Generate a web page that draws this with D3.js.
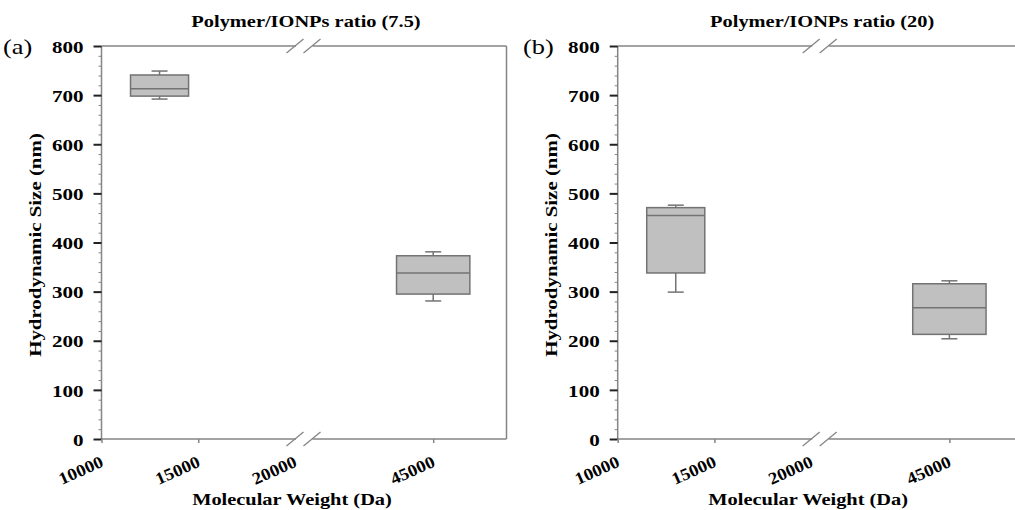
<!DOCTYPE html>
<html>
<head>
<meta charset="utf-8">
<script src="https://cdn.jsdelivr.net/npm/d3@7"></script>
<style>
  html, body { margin: 0; padding: 0; background: #fff; }
  svg { display: block; }
  text { font-family: "Liberation Serif", "Times New Roman", serif; fill: #000; }
</style>
</head>
<body>
<svg id="chart" width="1015" height="510"></svg>
<script>
// Molecular weight tick labels (broken axis between 20000 and 40000)
const weightTicks = [10000, 15000, 20000, 45000];
// Hydrodynamic size ticks (nm)
const sizeTicks = [0, 100, 200, 300, 400, 500, 600, 700, 800];
// Box positions on the molecular weight axis
const boxPositions = [13000, 45000];
const boxSpan = 3000;

// Polymer/IONPs ratio 7.5
const r75Min    = [692, 281];
const r75Q1     = [698, 295];
const r75Median = [713, 338];
const r75Q3     = [741, 373];
const r75Max    = [749, 381];

// Polymer/IONPs ratio 20
const r20Min    = [299, 204];
const r20Q1     = [338, 213];
const r20Median = [455, 267];
const r20Q3     = [471, 316];
const r20Max    = [476, 322];

const panelTitles = ["Polymer/IONPs ratio (7.5)", "Polymer/IONPs ratio (20)"];
const panelTags = ["(a)", "(b)"];

const panels = [
  { tag: panelTags[0], title: panelTitles[0], x0: 101.5, tagX: 3,
    min: r75Min, q1: r75Q1, med: r75Median, q3: r75Q3, max: r75Max },
  { tag: panelTags[1], title: panelTitles[1], x0: 617.7, tagX: 523,
    min: r20Min, q1: r20Q1, med: r20Median, q3: r20Q3, max: r20Max }
];

const W = 405, yTop = 46, yBottom = 439;
const axisGray = "#858585";
const boxStroke = "#737373";
const boxFill = "#c0c0c0";

const svg = d3.select("#chart");

// Piecewise scale: 10000–20000, gap, 40000–48000
const x = d3.scaleLinear()
  .domain([10000, 20000, 40000, 48000])
  .range([0, 193.5, 209.5, W]);
const y = d3.scaleLinear().domain([0, 800]).range([yBottom, yTop]);

panels.forEach(p => {
  const g = svg.append("g").attr("transform", `translate(${p.x0},0)`);

  // Boxes and whiskers
  const boxes = g.append("g");
  boxPositions.forEach((pos, i) => {
    const cx = x(pos);
    const left = x(pos - boxSpan / 2), right = x(pos + boxSpan / 2);
    const b = boxes.append("g")
      .attr("stroke", boxStroke).attr("stroke-width", 1.5);
    // upper whisker
    b.append("line").attr("x1", cx).attr("x2", cx)
      .attr("y1", y(p.q3[i])).attr("y2", y(p.max[i]));
    b.append("line").attr("x1", cx - 8).attr("x2", cx + 8)
      .attr("y1", y(p.max[i])).attr("y2", y(p.max[i]));
    // lower whisker
    b.append("line").attr("x1", cx).attr("x2", cx)
      .attr("y1", y(p.q1[i])).attr("y2", y(p.min[i]));
    b.append("line").attr("x1", cx - 8).attr("x2", cx + 8)
      .attr("y1", y(p.min[i])).attr("y2", y(p.min[i]));
    // box
    b.append("rect")
      .attr("x", left).attr("width", right - left)
      .attr("y", y(p.q3[i])).attr("height", y(p.q1[i]) - y(p.q3[i]))
      .attr("fill", boxFill);
    // median
    b.append("line").attr("x1", left).attr("x2", right)
      .attr("y1", y(p.med[i])).attr("y2", y(p.med[i]));
  });

  // Frame with break gap on top and bottom
  const frame = g.append("g").attr("stroke", axisGray).attr("stroke-width", 1.5).attr("fill", "none");
  const gapL = x(20000) + 1, gapR = x(40000) + 1.5;
  [yTop, yBottom].forEach(yy => {
    frame.append("line").attr("x1", 0).attr("x2", gapL).attr("y1", yy).attr("y2", yy);
    frame.append("line").attr("x1", gapR).attr("x2", W).attr("y1", yy).attr("y2", yy);
    [x(20000), x(40000) + 1].forEach(cx => {
      frame.append("line")
        .attr("x1", cx - 8.5).attr("y1", yy + 7)
        .attr("x2", cx + 8.5).attr("y2", yy - 7)
        .attr("stroke-width", 1.3);
    });
  });
  frame.append("line").attr("x1", 0).attr("x2", 0).attr("y1", yTop).attr("y2", yBottom);
  frame.append("line").attr("x1", W).attr("x2", W).attr("y1", yTop).attr("y2", yBottom);

  // Minor y ticks
  const minor = g.append("g")
    .call(d3.axisLeft(y)
      .tickValues(d3.range(0, 801, 20).filter(v => v % 100 !== 0))
      .tickSize(3).tickSizeOuter(0).tickFormat(""));
  minor.select(".domain").remove();
  minor.selectAll("line").attr("stroke", axisGray).attr("stroke-width", 1);

  // Major y ticks
  const yAxis = g.append("g")
    .call(d3.axisLeft(y).tickValues(sizeTicks).tickSize(8).tickSizeOuter(0));
  yAxis.select(".domain").remove();
  yAxis.selectAll("line").attr("stroke", "#222").attr("stroke-width", 2);
  yAxis.selectAll("text")
    .attr("x", null).attr("dy", "0.36em")
    .attr("text-anchor", "end")
    .attr("transform", "translate(-18,0) scale(1.24,1)")
    .style("font-size", "17px").style("font-weight", "bold")
    .style("font-family", "'Liberation Serif', serif").attr("fill", "#000");

  // X ticks
  const xAxis = g.append("g").attr("transform", `translate(0,${yBottom})`)
    .call(d3.axisBottom(x).tickValues(weightTicks).tickSize(4).tickSizeOuter(0)
      .tickFormat(d3.format("d")));
  xAxis.select(".domain").remove();
  xAxis.selectAll(".tick line").attr("stroke", axisGray).attr("stroke-width", 1.5);
  xAxis.selectAll(".tick").filter(d => d === 20000).select("line").remove();
  xAxis.selectAll("text")
    .attr("y", null).attr("dy", null)
    .attr("text-anchor", "end")
    .attr("transform", "translate(2.5,27) rotate(-24) scale(1.1,1)")
    .style("font-size", "17px").style("font-weight", "bold")
    .style("font-family", "'Liberation Serif', serif").attr("fill", "#000");

  // Titles
  g.append("text")
    .attr("transform", `translate(${W / 2 + 2},27) scale(1.2,1)`)
    .attr("text-anchor", "middle")
    .style("font-size", "17px").style("font-weight", "bold")
    .text(p.title);

  g.append("text")
    .attr("transform", "translate(190.5,505) scale(1.2,1)")
    .attr("text-anchor", "middle")
    .style("font-size", "17px").style("font-weight", "bold")
    .text("Molecular Weight (Da)");

  g.append("text")
    .attr("transform", "translate(-60.5,245) rotate(-90) scale(1.23,1)")
    .attr("text-anchor", "middle")
    .style("font-size", "17px").style("font-weight", "bold")
    .text("Hydrodynamic Size (nm)");

  svg.append("text")
    .attr("transform", `translate(${p.tagX},54) scale(1.2,1)`)
    .style("font-size", "22px")
    .text(p.tag);
});
</script>
</body>
</html>
